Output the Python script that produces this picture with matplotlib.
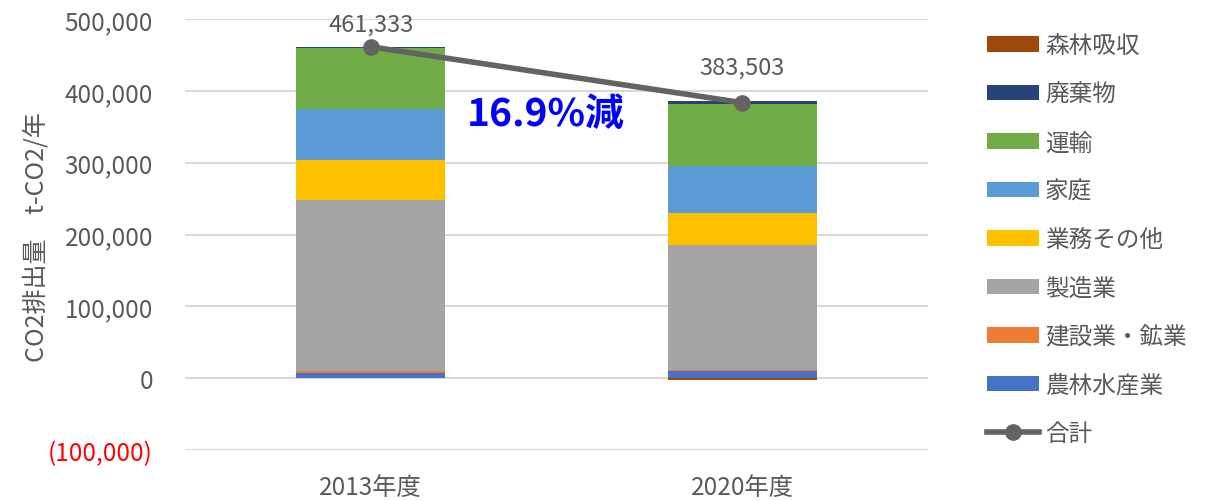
import matplotlib
matplotlib.use("Agg")
import matplotlib.pyplot as plt
from matplotlib.patches import Patch
from matplotlib.lines import Line2D
from matplotlib.ticker import FuncFormatter

plt.rcParams['font.family'] = ['Noto Sans CJK JP', 'DejaVu Sans']

categories = ["2013年度", "2020年度"]
sectors = ["農林水産業", "建設業・鉱業", "製造業", "業務その他", "家庭", "運輸", "廃棄物"]
values = {
    "農林水産業": [7000, 9300],
    "建設業・鉱業": [3300, 2400],
    "製造業": [238000, 173000],
    "業務その他": [55400, 44700],
    "家庭": [71200, 66400],
    "運輸": [84100, 85600],
    "廃棄物": [2333, 4603],
}
forest = [0, -2500]
forest_label = "森林吸収"
totals = [461333, 383503]
total_label = "合計"
reduction_text = "16.9%減"
ylabel = "CO2排出量　t-CO2/年"

colors = {
    "農林水産業": "#4472C4",
    "建設業・鉱業": "#ED7D31",
    "製造業": "#A5A5A5",
    "業務その他": "#FFC000",
    "家庭": "#5B9BD5",
    "運輸": "#70AD47",
    "廃棄物": "#264478",
    "森林吸収": "#9E480E",
}
text_gray = "#595959"
line_gray = "#636363"

fig = plt.figure(figsize=(12.21, 5.02), dpi=100)
ax = fig.add_axes([185/1221, 1-451/502, 743/1221, 431/502])

x = list(range(len(categories)))
bottom = [0.0] * len(categories)
for s in sectors:
    ax.bar(x, values[s], 0.4, bottom=bottom, color=colors[s], zorder=2, linewidth=0)
    bottom = [b + v for b, v in zip(bottom, values[s])]
ax.bar(x, forest, 0.4, bottom=0, color=colors[forest_label], zorder=2, linewidth=0)

ax.plot(x, totals, color=line_gray, lw=4, marker='o', markersize=11, zorder=4,
        solid_capstyle='round')
label_offsets = [8, 17]
for xi, t, off in zip(x, totals, label_offsets):
    ax.annotate(f"{t:,}", (xi, t), xytext=(0, off), textcoords='offset points',
                ha='center', va='bottom', fontsize=17, color=text_gray)

ax.text(0.47, 368000, reduction_text, ha='center', va='center', fontsize=28,
        fontweight='bold', color='#0000FF',
        family=['Noto Sans CJK JP', 'DejaVu Sans'])

ax.set_xlim(-0.5, 1.5)
ax.set_ylim(-100000, 500000)
ax.set_yticks(range(-100000, 500001, 100000))

def fmt(v, pos):
    v = int(round(v))
    if v < 0:
        return f"({-v:,})"
    return f"{v:,}"
ax.yaxis.set_major_formatter(FuncFormatter(fmt))
ax.set_xticks(x)
ax.set_xticklabels(categories)

ax.grid(axis='y', color='#D9D9D9', lw=1.5, zorder=0)
ax.set_axisbelow(True)
for sp in ax.spines.values():
    sp.set_visible(False)
ax.tick_params(length=0, colors=text_gray)
ax.tick_params(axis='y', pad=23, labelsize=17.5)
ax.tick_params(axis='x', pad=17, labelsize=17.5)
for lbl in ax.get_yticklabels():
    if lbl.get_text().startswith("("):
        lbl.set_color('#FF0000')

fig.text(37/1221, 1-237/502, ylabel, rotation=90, ha='center', va='center',
         fontsize=18, color=text_gray)

handles = []
labels = []
for s in [forest_label] + sectors[::-1]:
    handles.append(Patch(facecolor=colors[s], edgecolor='none'))
    labels.append(s)
handles.append(Line2D([0], [0], color=line_gray, lw=4, marker='o', markersize=11))
labels.append(total_label)
leg = fig.legend(handles, labels, loc='upper left', bbox_to_anchor=(966/1221, 1-14/502),
                 frameon=False, fontsize=17, labelcolor=text_gray, handlelength=2.2,
                 handleheight=0.63, labelspacing=1.08, handletextpad=0.25)

fig.savefig("out.png", dpi=100)
